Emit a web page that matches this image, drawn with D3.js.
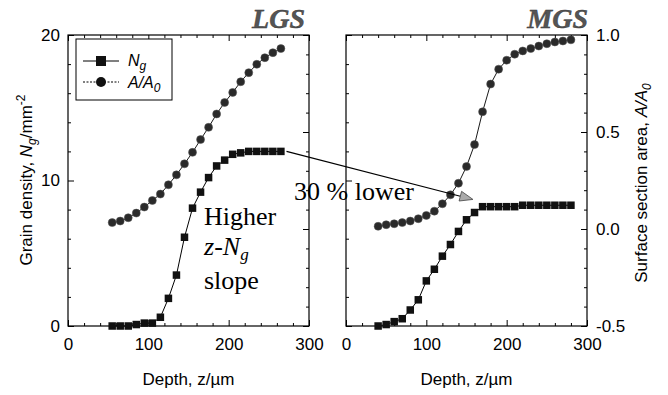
<!DOCTYPE html>
<html><head><meta charset="utf-8">
<script src="https://cdn.jsdelivr.net/npm/d3@7"></script>
<style>body{margin:0;background:#fff} svg{display:block}</style>
</head><body>
<svg id="c" width="668" height="395"></svg>
<script>
// ---- data ----
const depthLGS = [55,65,75,85,95,105,115,125,135,145,155,165,175,185,195,205,215,225,235,245,255,265];
const ngLGS    = [0,0,0,0.1,0.2,0.2,0.6,1.9,3.5,6.1,8.1,9.2,10.2,11.0,11.4,11.8,11.9,12.0,12.0,12.0,12.0,12.0];
const areaLGS  = [0.033,0.041,0.058,0.082,0.113,0.147,0.18,0.228,0.279,0.336,0.395,0.461,0.524,0.593,0.652,0.704,0.759,0.806,0.849,0.883,0.909,0.930];
const depthMGS = [40,50,60,70,80,90,100,110,120,130,140,150,160,170,180,190,200,210,220,230,240,250,260,270,280];
const ngMGS    = [0,0.1,0.3,0.5,1.1,1.8,3.1,3.9,4.8,5.6,6.5,7.3,7.8,8.2,8.2,8.2,8.2,8.2,8.3,8.3,8.3,8.3,8.3,8.3,8.3];
const areaMGS  = [0.014,0.022,0.027,0.033,0.041,0.053,0.070,0.092,0.130,0.176,0.236,0.322,0.435,0.604,0.747,0.824,0.870,0.901,0.918,0.930,0.943,0.955,0.964,0.969,0.975];
const xTicks = [0,100,200,300];
const xTickLabels = ["0","100","200","300"];
const ngTicks = [0,10,20];
const ngTickLabels = ["0","10","20"];
const areaTicks = [-0.5,0,0.5,1.0];
const areaTickLabels = ["-0.5","0.0","0.5","1.0"];
const panelTitles = ["LGS","MGS"];
const arrowFrom = {panel:0, depth:272, ng:12.0};
const arrowTo   = {panel:1, depth:158, ng:8.7};

// ---- layout ----
const svg = d3.select("#c");
const TOP = 35, BOT = 326, W = 241;
const SANS = "'Liberation Sans', Arial, sans-serif";
const SERIF = "'Liberation Serif', 'Times New Roman', serif";
const panels = [
  {x0:68,  title:panelTitles[0], depth:depthLGS, ng:ngLGS, area:areaLGS},
  {x0:346, title:panelTitles[1], depth:depthMGS, ng:ngMGS, area:areaMGS}
];
const yN = d3.scaleLinear().domain([0,20]).range([BOT, TOP]);
const yA = d3.scaleLinear().domain([-0.5,1]).range([BOT, TOP]);
const xS = d3.scaleLinear().domain([0,300]).range([0, W]);

// annotation text (drawn first so frames pass over it)
const ann = svg.append("g").attr("font-family", SERIF).attr("font-size", 26).attr("fill","#000");
ann.append("text").attr("x",204).attr("y",225).text("Higher");
const zt = ann.append("text").attr("x",204).attr("y",255);
zt.append("tspan").attr("font-style","italic").text("z");
zt.append("tspan").text("-");
zt.append("tspan").attr("font-style","italic").text("N");
zt.append("tspan").attr("font-style","italic").attr("font-size",17).attr("dy",5).text("g");
ann.append("text").attr("x",204).attr("y",289).text("slope");
ann.append("text").attr("x",294).attr("y",200).text("30 % lower");

function styleAxis(g){
  g.select(".domain").remove();
  g.selectAll(".tick line").attr("stroke","#000").attr("stroke-width",1);
  g.selectAll(".tick text").attr("font-family",SANS).attr("font-size",17).attr("fill","#000");
}

panels.forEach((p,i) => {
  const g = svg.append("g").attr("transform",`translate(${p.x0},0)`);
  // minor ticks
  const minorX = d3.range(20,300,20).filter(v => v % 100 !== 0);
  const minorN = d3.range(2,20,2).filter(v => v % 10 !== 0);
  const minorA = d3.range(-4,10,1).map(v => v/10).filter(v => Math.abs(v*10 % 5) > 1e-6);
  g.append("g").attr("transform",`translate(0,${BOT})`)
    .call(d3.axisBottom(xS).tickValues(minorX).tickSize(-3).tickFormat("")).call(styleAxis);
  g.append("g").attr("transform",`translate(0,${TOP})`)
    .call(d3.axisTop(xS).tickValues(minorX).tickSize(-3).tickFormat("")).call(styleAxis);
  g.append("g").call(d3.axisLeft(yN).tickValues(minorN).tickSize(-3).tickFormat("")).call(styleAxis);
  g.append("g").attr("transform",`translate(${W},0)`)
    .call(d3.axisRight(yA).tickValues(minorA).tickSize(-3).tickFormat("")).call(styleAxis);
  // major ticks
  g.append("g").attr("transform",`translate(0,${BOT})`)
    .call(d3.axisBottom(xS).tickValues(xTicks).tickSize(-6).tickPadding(12)
      .tickFormat((d,k)=>xTickLabels[k])).call(styleAxis);
  g.append("g").attr("transform",`translate(0,${TOP})`)
    .call(d3.axisTop(xS).tickValues(xTicks).tickSize(-6).tickFormat("")).call(styleAxis);
  g.append("g").call(d3.axisLeft(yN).tickValues(ngTicks).tickSize(-6).tickPadding(8)
      .tickFormat((d,k)=> i===0 ? ngTickLabels[k] : "")).call(styleAxis);
  g.append("g").attr("transform",`translate(${W},0)`)
    .call(d3.axisRight(yA).tickValues(areaTicks).tickSize(-6).tickPadding(9)
      .tickFormat((d,k)=> i===1 ? areaTickLabels[k] : "")).call(styleAxis);
  // frame
  g.append("rect").attr("x",0).attr("y",TOP).attr("width",W).attr("height",BOT-TOP)
    .attr("fill","none").attr("stroke","#000").attr("stroke-width",1.2);

  // lines
  const lineN = d3.line().x((d,k)=>xS(p.depth[k])).y(d=>yN(d));
  const lineA = d3.line().x((d,k)=>xS(p.depth[k])).y(d=>yA(d));
  g.append("path").attr("d",lineA(p.area)).attr("fill","none").attr("stroke","#000").attr("stroke-width",0.9);
  g.append("path").attr("d",lineN(p.ng)).attr("fill","none").attr("stroke","#000").attr("stroke-width",1);
  g.selectAll("circle.a").data(p.area).enter().append("circle")
    .attr("cx",(d,k)=>xS(p.depth[k])).attr("cy",d=>yA(d)).attr("r",4)
    .attr("fill","#2a2a2a").attr("stroke","#555").attr("stroke-width",0.5);
  g.selectAll("rect.n").data(p.ng).enter().append("rect")
    .attr("x",(d,k)=>xS(p.depth[k])-3.75).attr("y",d=>yN(d)-3.75)
    .attr("width",7.5).attr("height",7.5).attr("fill","#111");

  // x axis title
  const xt = g.append("text").attr("x",W/2).attr("y",385).attr("text-anchor","middle")
    .attr("font-family",SANS).attr("font-size",17);
  xt.append("tspan").text("Depth, z/\u00b5m");

  // panel title
  g.append("text").attr("x", i===0 ? W-4 : W+1).attr("y",28).attr("text-anchor","end")
    .attr("font-family",SERIF).attr("font-style","italic").attr("font-weight","bold")
    .attr("font-size",28).attr("fill","#555").attr("stroke","#333").attr("stroke-width",0.4)
    .text(p.title);
});

// y titles
const lt = svg.append("text").attr("transform","translate(32,180) rotate(-90)")
  .attr("text-anchor","middle").attr("font-family",SANS).attr("font-size",17);
lt.append("tspan").text("Grain density, ");
lt.append("tspan").attr("font-style","italic").text("N");
lt.append("tspan").attr("font-style","italic").attr("font-size",12).attr("dy",4).text("g");
lt.append("tspan").attr("dy",-4).text("/mm");
lt.append("tspan").attr("font-size",12).attr("dy",-7).text("-2");

const rt = svg.append("text").attr("transform","translate(647,183) rotate(-90)")
  .attr("text-anchor","middle").attr("font-family",SANS).attr("font-size",17);
rt.append("tspan").text("Surface section area, ");
rt.append("tspan").attr("font-style","italic").text("A/A");
rt.append("tspan").attr("font-style","italic").attr("font-size",12).attr("dy",4).text("0");

// legend
const lg = svg.append("g").attr("font-family",SANS).attr("font-size",16);
lg.append("rect").attr("x",76).attr("y",39).attr("width",96).attr("height",61)
  .attr("fill","#fff").attr("stroke","#000").attr("stroke-width",1);
lg.append("line").attr("x1",83).attr("x2",119).attr("y1",61).attr("y2",61).attr("stroke","#000");
lg.append("rect").attr("x",96).attr("y",56).attr("width",10).attr("height",10).attr("fill","#111");
const l1 = lg.append("text").attr("x",128).attr("y",66);
l1.append("tspan").attr("font-style","italic").text("N");
l1.append("tspan").attr("font-style","italic").attr("font-size",12).attr("dy",4).text("g");
lg.append("line").attr("x1",83).attr("x2",119).attr("y1",82).attr("y2",82).attr("stroke","#000").attr("stroke-dasharray","2,1.5");
lg.append("circle").attr("cx",101).attr("cy",82).attr("r",5).attr("fill","#111");
const l2 = lg.append("text").attr("x",128).attr("y",88);
l2.append("tspan").attr("font-style","italic").text("A/A");
l2.append("tspan").attr("font-style","italic").attr("font-size",12).attr("dy",4).text("0");

// arrow
const px = (pt) => panels[pt.panel].x0 + xS(pt.depth);
const x1 = px(arrowFrom), y1 = yN(arrowFrom.ng), x2 = px(arrowTo), y2 = yN(arrowTo.ng);
const len = Math.hypot(x2-x1, y2-y1), ux = (x2-x1)/len, uy = (y2-y1)/len;
const hl = 13, hw = 5;
const bx = x2 - ux*hl, by = y2 - uy*hl;
svg.append("line").attr("x1",x1).attr("y1",y1).attr("x2",bx).attr("y2",by)
  .attr("stroke","#000").attr("stroke-width",1.1);
svg.append("polygon")
  .attr("points",[[x2,y2],[bx - uy*hw, by + ux*hw],[bx + uy*hw, by - ux*hw]].map(d=>d.join(",")).join(" "))
  .attr("fill","#aaa").attr("stroke","#444").attr("stroke-width",0.8);
</script>
</body></html>
